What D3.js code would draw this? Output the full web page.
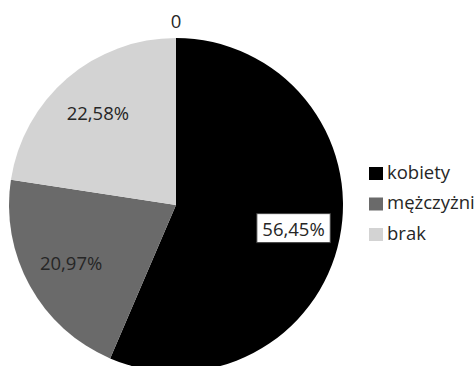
<!DOCTYPE html>
<meta charset="utf-8">
<script src="https://d3js.org/d3.v7.min.js"></script>
<style>
  body { margin: 0; background: #fff; }
  text { font-family: "Open Sans", sans-serif; fill: #262626; }
</style>
<svg id="chart" width="474" height="366"></svg>
<script>
  // values
  const categories = ["kobiety", "mężczyżni", "brak"];
  const values = [56.45, 20.97, 22.58];
  const labels = ["56,45%", "20,97%", "22,58%"];
  const colours = ["#000000", "#6a6a6a", "#d3d3d3"];
  const title = "0";

  const svg = d3.select("#chart");
  const cx = 176, cy = 205, r = 167;

  const color = d3.scaleOrdinal().domain(categories).range(colours);

  const pie = d3.pie().sort(null).value(d => d.value);
  const data = pie(categories.map((c, i) => ({ name: c, value: values[i], label: labels[i] })));

  const arc = d3.arc().innerRadius(0).outerRadius(r);
  const labelArc = d3.arc().innerRadius(120).outerRadius(120);

  const g = svg.append("g").attr("transform", `translate(${cx},${cy})`);

  g.selectAll("path")
    .data(data)
    .enter()
    .append("path")
      .attr("d", arc)
      .attr("fill", d => color(d.data.name));

  // data labels
  const lab = g.selectAll("g.lab")
    .data(data)
    .enter()
    .append("g")
      .attr("class", "lab")
      .attr("transform", d => `translate(${labelArc.centroid(d)})`);

  lab.append("text")
    .attr("text-anchor", "middle")
    .attr("dy", "0.35em")
    .style("font-size", "18.5px")
    .text(d => d.data.label)
    .each(function(d) {
      // the black slice gets a white boxed label
      if (d.index === 0) {
        const b = this.getBBox();
        d3.select(this.parentNode).insert("rect", "text")
          .attr("x", b.x - 5.5).attr("y", b.y - 2)
          .attr("width", b.width + 11).attr("height", b.height + 4)
          .attr("fill", "#fff").attr("stroke", "#404040").attr("stroke-width", 1);
      }
    });

  // title "0"
  svg.append("text")
    .attr("x", cx).attr("y", 28)
    .attr("text-anchor", "middle")
    .style("font-size", "18.5px")
    .text(title);

  // legend
  const legend = svg.append("g").attr("transform", "translate(369,173.5)");
  const rows = legend.selectAll("g")
    .data(categories)
    .enter()
    .append("g")
      .attr("transform", (d, i) => `translate(0,${i * 30.5})`);

  rows.append("rect")
    .attr("x", 0).attr("y", -6.5)
    .attr("width", 14).attr("height", 13)
    .attr("fill", d => color(d));

  rows.append("text")
    .attr("x", 18).attr("dy", "0.28em")
    .style("font-size", "18.5px")
    .text(d => d);
</script>
